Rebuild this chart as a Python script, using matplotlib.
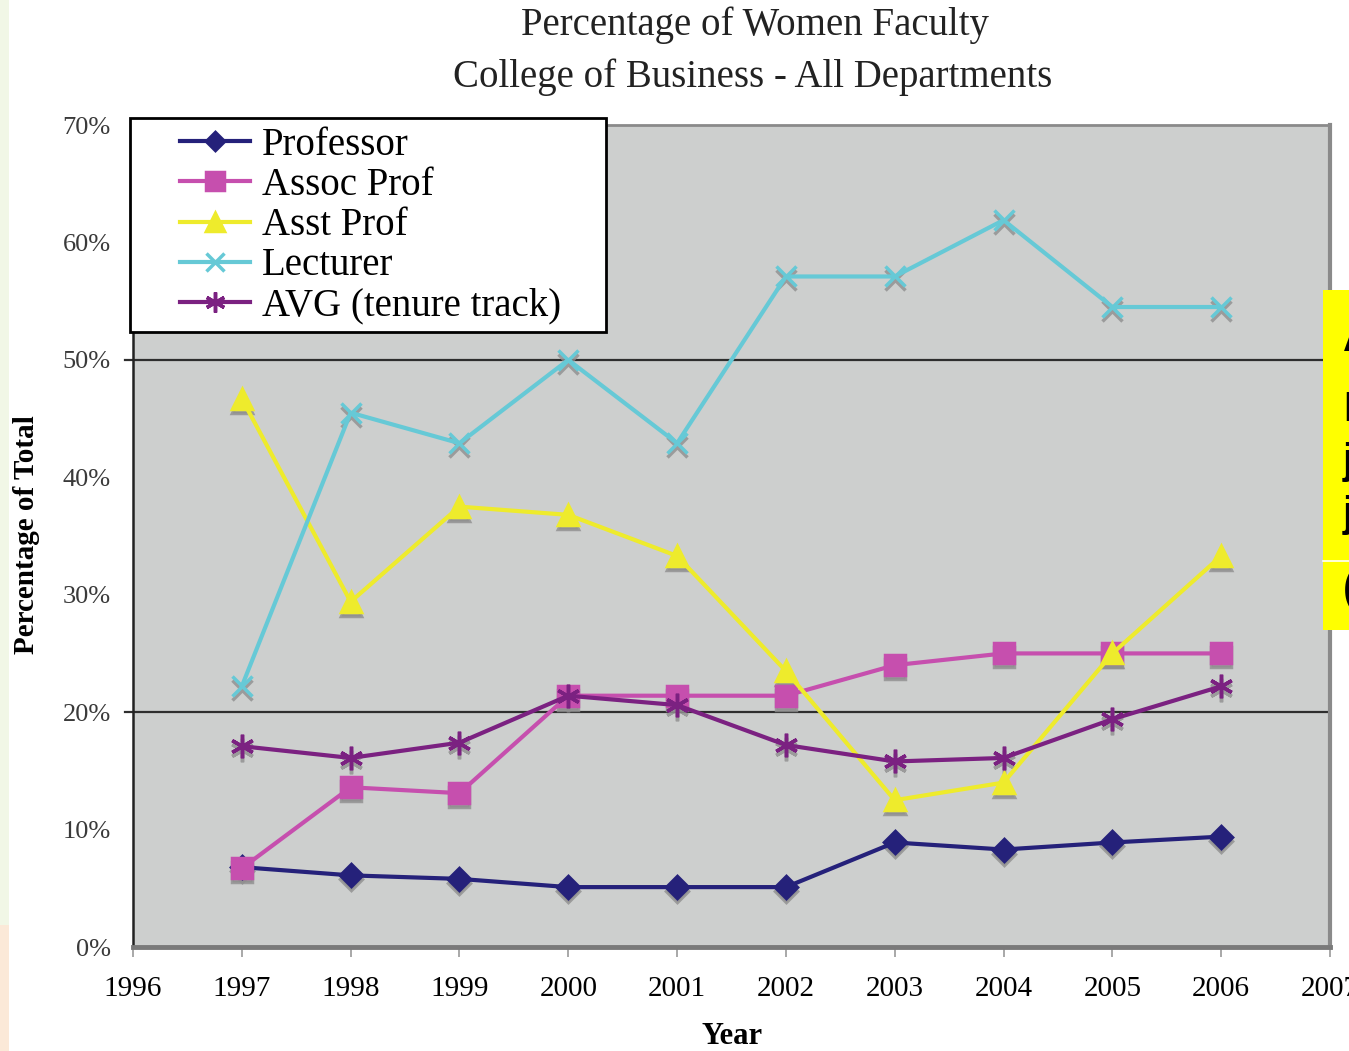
import matplotlib
matplotlib.use("Agg")
import matplotlib.pyplot as plt
import matplotlib.transforms as mtransforms
from matplotlib.patches import Rectangle

# women faculty share by rank, percent of total
years = [1997, 1998, 1999, 2000, 2001, 2002, 2003, 2004, 2005, 2006]
professor = [6.8, 6.1, 5.8, 5.1, 5.1, 5.1, 8.9, 8.3, 8.9, 9.4]
assoc_prof = [6.7, 13.6, 13.1, 21.4, 21.4, 21.4, 24.0, 25.0, 25.0, 25.0]
asst_prof = [46.7, 29.4, 37.5, 36.8, 33.3, 23.5, 12.5, 14.0, 25.0, 33.3]
lecturer = [22.2, 45.5, 42.9, 50.0, 42.9, 57.1, 57.1, 61.9, 54.5, 54.5]
avg_tenure = [17.1, 16.1, 17.4, 21.4, 20.6, 17.2, 15.8, 16.1, 19.4, 22.2]

series_names = ["Professor", "Assoc Prof", "Asst Prof", "Lecturer", "AVG (tenure track)"]
x_ticks = list(range(1996, 2008))
y_ticks = [0, 10, 20, 30, 40, 50, 60, 70]
y_tick_labels = ["0%", "10%", "20%", "30%", "40%", "50%", "60%", "70%"]

W, H = 1349, 1051
fig = plt.figure(figsize=(W / 100, H / 100), dpi=100)
fig.patch.set_facecolor("white")

serif = ["Liberation Serif", "DejaVu Serif"]

# faint strip along the left edge of the slide
fig.patches.append(Rectangle((0, 0), 9 / W, 1, transform=fig.transFigure,
                             facecolor="#f1f7e6", edgecolor="none", zorder=0))
fig.patches.append(Rectangle((0, 0), 9 / W, 0.12, transform=fig.transFigure,
                             facecolor="#fbe9d8", edgecolor="none", zorder=0))

ax = fig.add_axes([133 / W, 1 - 947 / H, (1330 - 133) / W, (947 - 125) / H])
ax.set_facecolor("#cdcfce")
ax.set_xlim(1996, 2007)
ax.set_ylim(0, 70)

styles = [
    (professor, "#25217a", "D", 11),
    (assoc_prof, "#c64fae", "s", 15),
    (asst_prof, "#eeeb2c", "^", 15),
    (lecturer, "#66c9d6", "x", 15),
    (avg_tenure, "#7b2181", (6, 2, 0), 17),
]

shadow_tf = mtransforms.offset_copy(ax.transData, fig=fig, x=0, y=-4, units="dots")
handles = []
for (vals, color, marker, size), name in zip(styles, series_names):
    # drop shadow under each marker
    ax.plot(years, vals, linestyle="none", marker=marker, markersize=size,
            color="#8f8f8f", markeredgewidth=2.5, alpha=0.8, transform=shadow_tf, zorder=2)
    h, = ax.plot(years, vals, color=color, linewidth=3, marker=marker,
                 markersize=size, markerfacecolor=color, markeredgecolor=color,
                 markeredgewidth=2.5, zorder=3, label=name)
    handles.append(h)

for level in (20, 50):
    ax.axhline(level, xmin=-0.007, xmax=1, color="#2e2e2e", linewidth=1.6,
               clip_on=False, zorder=1)

ax.set_xticks(x_ticks)
ax.set_xticklabels([str(y) for y in x_ticks], fontsize=21, family=serif)
ax.set_yticks(y_ticks)
ax.set_yticklabels(y_tick_labels, fontsize=19, family=serif, color="#3a3a3a")
ax.tick_params(axis="y", length=0, pad=16)
ax.tick_params(axis="x", direction="out", length=7, width=1.2, color="#9a9a9a", pad=14)

ax.spines["left"].set_color("#222222")
ax.spines["left"].set_linewidth(1.8)
ax.spines["top"].set_color("#8a8a8a")
ax.spines["top"].set_linewidth(2)
ax.spines["right"].set_color("#8a8a8a")
ax.spines["right"].set_linewidth(3)
ax.spines["bottom"].set_color("#7a7a7a")
ax.spines["bottom"].set_linewidth(3.5)

# legend box drawn separately so the entries can sit inset from its left edge
fig.patches.append(Rectangle((130 / W, 1 - 332 / H), (606 - 130) / W, (332 - 118) / H,
                             transform=fig.transFigure, facecolor="white",
                             edgecolor="black", linewidth=2, zorder=4))
leg = fig.legend(handles=handles, loc="upper left",
                 bbox_to_anchor=(180 / W, 1 - 127 / H),
                 bbox_transform=fig.transFigure, borderaxespad=0,
                 prop={"family": serif, "size": 28}, frameon=False,
                 handlelength=1.8, labelspacing=0.08, handletextpad=0.3,
                 borderpad=0, markerscale=0.85)
leg.set_zorder(5)

fig.text(755 / W, 1 - 25 / H, "Percentage of Women Faculty", ha="center", va="center",
         fontsize=28, family=serif, color="#222222")
fig.text(753 / W, 1 - 77 / H, "College of Business - All Departments", ha="center",
         va="center", fontsize=28, family=serif, color="#222222")

fig.text(27 / W, 1 - 535 / H, "Percentage of Total", rotation=90, ha="center",
         va="center", fontsize=21, fontweight="bold", family=serif)
fig.text(732 / W, 1 - 1037 / H, "Year", ha="center", va="center", fontsize=22,
         fontweight="bold", family=serif)

# yellow callout box running off the right edge
fig.patches.append(Rectangle((1323 / W, 1 - 630 / H), 40 / W, 340 / H,
                             transform=fig.transFigure, facecolor="#ffff00",
                             edgecolor="none", zorder=6))
fig.lines.append(plt.Line2D([1323 / W, 1], [1 - 561 / H, 1 - 561 / H],
                            transform=fig.transFigure, color="white",
                            linewidth=1.2, zorder=7))
for txt, ypx in [("A", 340), ("D", 410), ("j", 462), ("j", 515), ("(", 590)]:
    fig.text(1343 / W, 1 - ypx / H, txt, ha="left", va="center", fontsize=30,
             fontweight="bold", family=["Liberation Sans", "DejaVu Sans"], zorder=8)

fig.savefig("out.png", dpi=100)
